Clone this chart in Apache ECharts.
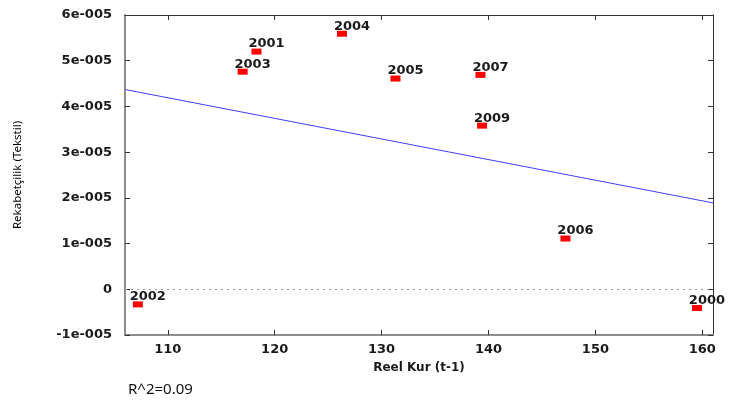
<!DOCTYPE html>
<html>
<head>
<meta charset="utf-8">
<script src="https://cdn.jsdelivr.net/npm/echarts@6/dist/echarts.min.js"></script>
<style>html,body{margin:0;padding:0;background:#fff;}#c{width:730px;height:403px;}</style>
</head>
<body>
<div id="c"></div>
<script>
const years = ['2000','2001','2002','2003','2004','2005','2006','2007','2009'];
const reelKur = [159.5, 118.3, 107.2, 117.0, 126.3, 131.3, 147.2, 139.25, 139.4];
const rekabet = [-4.1e-6, 5.2e-5, -3.3e-6, 4.76e-5, 5.59e-5, 4.61e-5, 1.11e-5, 4.69e-5, 3.58e-5];
const fitX = [106, 161];
const fitY = [4.37e-5, 1.89e-5];
const xTicks = [110, 120, 130, 140, 150, 160];
const yTicks = [-1e-5, 0, 1e-5, 2e-5, 3e-5, 4e-5, 5e-5, 6e-5];
const rSquared = 'R^2=0.09';

const gnuFont = {fontFamily: 'DejaVu Sans', fontWeight: 'bold', fontSize: 13, color: '#1a1a1a'};
function yFmt(v) {
  const k = Math.round(v / 1e-5);
  if (k === 0) return '0';
  return k + 'e-005';
}

const chart = echarts.init(document.getElementById('c'), null, {renderer: 'canvas'});
chart.setOption({
  animation: false,
  backgroundColor: '#fff',
  grid: {left: 125, right: 17, top: 15, bottom: 68, containLabel: false},
  xAxis: [
    {type: 'value', min: 106, max: 161, position: 'bottom',
     axisLine: {show: true, onZero: false, lineStyle: {color: '#8c8c8c', width: 2}},
     axisTick: {show: true, inside: true, length: 5, customValues: xTicks, lineStyle: {color: '#333'}},
     axisLabel: Object.assign({customValues: xTicks, margin: 8}, gnuFont),
     splitLine: {show: false},
     name: 'Reel Kur (t-1)', nameLocation: 'middle', nameGap: 27,
     nameTextStyle: Object.assign({}, gnuFont, {fontSize: 12})},
    {type: 'value', min: 106, max: 161, position: 'top',
     axisLine: {show: true, onZero: false, lineStyle: {color: '#333', width: 1}},
     axisTick: {show: true, inside: true, length: 5, customValues: xTicks, lineStyle: {color: '#333'}},
     axisLabel: {show: false}, splitLine: {show: false}}
  ],
  yAxis: [
    {type: 'value', min: -1e-5, max: 6e-5, position: 'left',
     axisLine: {show: true, onZero: false, lineStyle: {color: '#8c8c8c', width: 2}},
     axisTick: {show: true, inside: true, length: 5, customValues: yTicks, lineStyle: {color: '#333'}},
     axisLabel: Object.assign({customValues: yTicks, margin: 13, formatter: yFmt}, gnuFont),
     splitLine: {show: false},
     name: 'Rekabetçilik (Tekstil)', nameLocation: 'middle', nameGap: 101, nameRotate: 90,
     nameTextStyle: {fontFamily: 'Noto Sans', fontSize: 11.5, fontWeight: 'normal', color: '#000'}},
    {type: 'value', min: -1e-5, max: 6e-5, position: 'right',
     axisLine: {show: true, onZero: false, lineStyle: {color: '#333', width: 1}},
     axisTick: {show: true, inside: true, length: 5, customValues: yTicks, lineStyle: {color: '#333'}},
     axisLabel: {show: false}, splitLine: {show: false}}
  ],
  graphic: [
    {type: 'text', left: 128, top: 382,
     style: {text: rSquared, fontFamily: 'Noto Sans', fontSize: 15, fill: '#111'}}
  ],
  series: [
    {type: 'line', xAxisIndex: 0, yAxisIndex: 0, z: 2,
     data: fitX.map((x, i) => [x, fitY[i]]),
     showSymbol: false, symbol: 'none',
     lineStyle: {color: '#3f3fff', width: 1},
     markLine: {silent: true, symbol: ['none', 'none'], label: {show: false},
       lineStyle: {type: [2, 4], color: '#999', width: 1},
       data: [{yAxis: 0}]}},
    {type: 'scatter', xAxisIndex: 0, yAxisIndex: 0, z: 5,
     symbol: 'rect', symbolSize: [10, 6],
     itemStyle: {color: '#ff0000', opacity: 1},
     label: Object.assign({show: true, position: 'top', distance: 0, offset: [10, 2],
       textBorderWidth: 0, formatter: '{b}'}, gnuFont),
     data: years.map((y, i) => ({name: y, value: [reelKur[i], rekabet[i]]}))}
  ]
});
</script>
</body>
</html>
